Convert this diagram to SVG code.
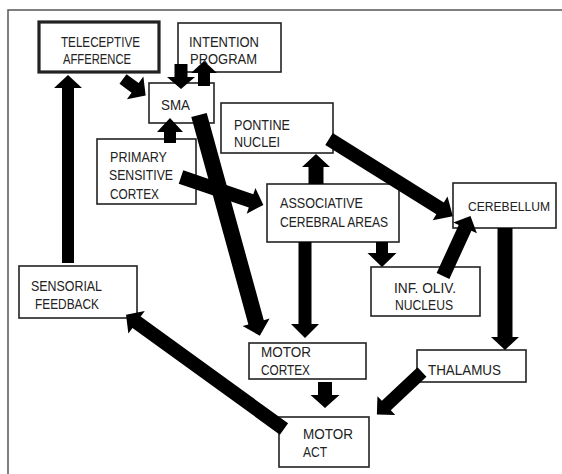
<svg xmlns="http://www.w3.org/2000/svg" width="562" height="474" viewBox="0 0 562 474">
<style>
.box{fill:#fff;stroke:#222;stroke-width:1.6}
.thick{stroke-width:3.2}
.lbl{font-family:"Liberation Sans",Arial,sans-serif;font-size:14.5px;fill:#222;}
.arr{fill:#000}
</style>
<rect width="562" height="474" fill="#fff"/>
<path d="M8,474 V10 H562" fill="none" stroke="#555" stroke-width="1.5"/>
<g id="nodes">
<g id="teleceptive"><rect class="box thick" x="39" y="22" width="120" height="50"/>
<text class="lbl" x="61" y="47" textLength="79" lengthAdjust="spacingAndGlyphs">TELECEPTIVE</text>
<text class="lbl" x="63" y="64" textLength="68" lengthAdjust="spacingAndGlyphs">AFFERENCE</text></g>
<g id="intention"><rect class="box" x="178" y="23" width="103" height="49"/>
<text class="lbl" x="189" y="47" textLength="70" lengthAdjust="spacingAndGlyphs">INTENTION</text>
<text class="lbl" x="190" y="64" textLength="67" lengthAdjust="spacingAndGlyphs">PROGRAM</text></g>
<g id="sma"><rect class="box" x="149" y="83" width="65" height="40"/>
<text class="lbl" x="161" y="110" textLength="29" lengthAdjust="spacingAndGlyphs">SMA</text></g>
<g id="pontine"><rect class="box" x="221" y="103" width="112" height="50"/>
<text class="lbl" x="234" y="130" textLength="56" lengthAdjust="spacingAndGlyphs">PONTINE</text>
<text class="lbl" x="234" y="147" textLength="46" lengthAdjust="spacingAndGlyphs">NUCLEI</text></g>
<g id="primary"><rect class="box" x="97" y="139" width="99" height="65"/>
<text class="lbl" x="110" y="162" textLength="57" lengthAdjust="spacingAndGlyphs">PRIMARY</text>
<text class="lbl" x="109" y="180" textLength="64" lengthAdjust="spacingAndGlyphs">SENSITIVE</text>
<text class="lbl" x="110" y="199" textLength="49" lengthAdjust="spacingAndGlyphs">CORTEX</text></g>
<g id="associative"><rect class="box" x="267" y="184" width="132" height="58"/>
<text class="lbl" x="280" y="208" textLength="83" lengthAdjust="spacingAndGlyphs">ASSOCIATIVE</text>
<text class="lbl" x="280" y="227" textLength="108" lengthAdjust="spacingAndGlyphs">CEREBRAL AREAS</text></g>
<g id="cerebellum"><rect class="box" x="453" y="183" width="103" height="45"/>
<text class="lbl" x="509" y="211" text-anchor="middle" style="font-size:13.6px" textLength="82" lengthAdjust="spacingAndGlyphs">CEREBELLUM</text></g>
<g id="infoliv"><rect class="box" x="371" y="267" width="109" height="49"/>
<text class="lbl" x="394" y="293" textLength="62" lengthAdjust="spacingAndGlyphs">INF. OLIV.</text>
<text class="lbl" x="395" y="310" textLength="58" lengthAdjust="spacingAndGlyphs">NUCLEUS</text></g>
<g id="sensorial"><rect class="box" x="19" y="266" width="118" height="52"/>
<text class="lbl" x="31" y="291" textLength="71" lengthAdjust="spacingAndGlyphs">SENSORIAL</text>
<text class="lbl" x="35" y="309" textLength="64" lengthAdjust="spacingAndGlyphs">FEEDBACK</text></g>
<g id="motorcortex"><rect class="box" x="249" y="343" width="117" height="36"/>
<text class="lbl" x="261" y="357" textLength="50" lengthAdjust="spacingAndGlyphs">MOTOR</text>
<text class="lbl" x="261" y="375" textLength="49" lengthAdjust="spacingAndGlyphs">CORTEX</text></g>
<g id="thalamus"><rect class="box" x="417" y="350" width="109" height="32"/>
<text class="lbl" x="428" y="375" textLength="73" lengthAdjust="spacingAndGlyphs">THALAMUS</text></g>
<g id="motoract"><rect class="box" x="279" y="417" width="90" height="50"/>
<text class="lbl" x="303" y="439" textLength="50" lengthAdjust="spacingAndGlyphs">MOTOR</text>
<text class="lbl" x="303" y="457" textLength="24" lengthAdjust="spacingAndGlyphs">ACT</text></g>
</g>
<g id="connectors" class="arr">
<polygon points="62,263 62,88 54,88 68,75 82,88 74,88 74,263"/>
<polygon transform="translate(123,79) rotate(36)" points="0,-6 15,-6 15,-14 28,0 15,14 15,6 0,6"/>
<polygon points="174.5,64 187.5,64 187.5,77 195,77 181,89 167,77 174.5,77"/>
<polygon points="198,86 198,73 191,73 204,61 217,73 210,73 210,86"/>
<polygon points="164,143 164,132 157,132 170,118 183,132 176,132 176,143"/>
<polygon transform="translate(199,115) rotate(74.6)" points="0,-8 215,-8 215,-14 229,0 215,14 215,8 0,8"/>
<polygon transform="translate(181,177) rotate(18.8)" points="0,-7 74,-7 74,-13.5 87,0 74,13.5 74,7 0,7"/>
<polygon points="308.5,184 308.5,167 302,167 316,154 330,167 323.5,167 323.5,184"/>
<polygon transform="translate(329,139) rotate(32)" points="0,-7 131,-7 131,-14 146,0 131,14 131,7 0,7"/>
<polygon points="376,242 388,242 388,253 396.5,253 382,267 367.5,253 376,253"/>
<polygon transform="translate(443,276) rotate(-65.4)" points="0,-7 53,-7 53,-13 66,0 53,13 53,7 0,7"/>
<polygon points="298.5,242 311.5,242 311.5,324 319,324 305,338 291,324 298.5,324"/>
<polygon points="497.5,228 512.5,228 512.5,337 519,337 505,350 491,337 497.5,337"/>
<polygon points="318,382 332,382 332,395 339.5,395 325,408 310.5,395 318,395"/>
<polygon transform="translate(422,372) rotate(136.7)" points="0,-6.5 49,-6.5 49,-13 62,0 49,13 49,6.5 0,6.5"/>
<polygon transform="translate(284,429) rotate(215.9)" points="0,-7 182,-7 182,-14 195,0 182,14 182,7 0,7"/>
</g>
</svg>
